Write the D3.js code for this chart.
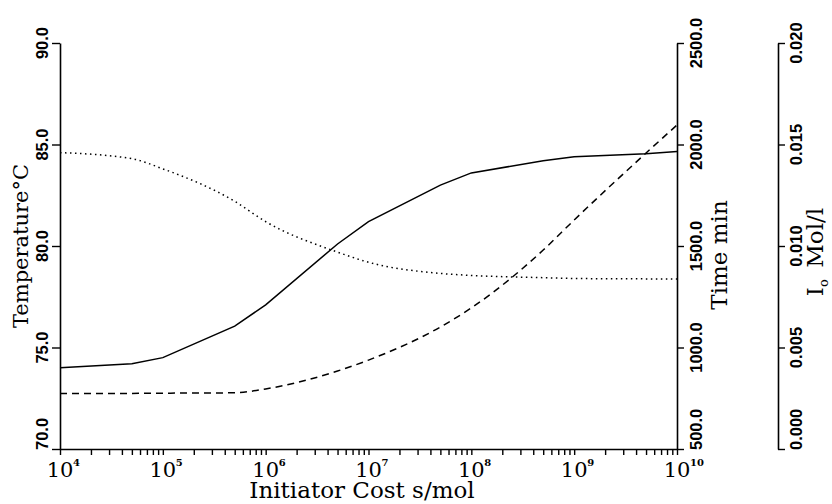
<!DOCTYPE html>
<html>
<head>
<meta charset="utf-8">
<script src="https://cdn.jsdelivr.net/npm/d3@7"></script>
<style>
  body { margin: 0; background: #fff; }
  svg { display: block; }
  .tick-lbl { font-family: "Liberation Sans", Arial, sans-serif; font-weight: bold; font-size: 16.5px; }
  .title { font-family: "DejaVu Serif", serif; font-size: 21px; }
</style>
</head>
<body>
<svg id="chart" width="832" height="504"></svg>
<script>
// initiator cost (s/mol) where the curves were computed
var cost = [1e4, 5e4, 1e5, 5e5, 1e6, 5e6, 1e7, 5e7, 1e8, 5e8, 1e9, 5e9, 1e10];
// solid line - temperature, deg C
var temperature = [74.0, 74.2, 74.5, 76.05, 77.1, 80.1, 81.2, 83.0, 83.6, 84.2, 84.4, 84.55, 84.65];
// dashed line - reaction time, min
var time = [774, 774, 775, 777, 796, 884, 938, 1101, 1195, 1480, 1628, 1958, 2096];
// dotted line - initiator concentration, mol/l
var conc = [0.0146, 0.0143, 0.0138, 0.0122, 0.0112, 0.0097, 0.0092, 0.00865, 0.00855, 0.00844, 0.0084, 0.00838, 0.00837];

var tempTicks = [70, 75, 80, 85, 90];
var timeTicks = [500, 1000, 1500, 2000, 2500];
var concTicks = [0, 0.005, 0.010, 0.015, 0.020];
var decades = [4, 5, 6, 7, 8, 9, 10];

var svg = d3.select("#chart");
var pl = 60, pr = 677, pt = 43, pb = 449;

var x = d3.scaleLog().domain([1e4, 1e10]).range([pl, pr]);
var yT = d3.scaleLinear().domain([70, 90]).range([pb, pt]);
var yTime = d3.scaleLinear().domain([500, 2500]).range([pb, pt]);
var yC = d3.scaleLinear().domain([0, 0.02]).range([pb, pt]);

function styleAxis(g) {
  g.select(".domain").attr("stroke", "#000").attr("stroke-width", 1.6);
  g.selectAll(".tick line").attr("stroke", "#000").attr("stroke-width", 1.4);
  g.selectAll(".tick text").remove();
}

// rotated tick labels, centred on the tick but kept above the bottom of the axis
function vertLabels(ticks, scale, fmt, xBase) {
  var g = svg.append("g");
  ticks.forEach(function(t) {
    var txt = g.append("text").attr("class", "tick-lbl").text(fmt(t));
    var len = txt.node().getComputedTextLength();
    var cy = Math.min(scale(t), pb + 1 - len / 2);
    txt.attr("text-anchor", "middle")
      .attr("transform", "translate(" + xBase + "," + cy + ") rotate(-90)");
  });
}

// left axis: temperature
var axT = svg.append("g").attr("transform", "translate(" + pl + ",0)")
  .call(d3.axisLeft(yT).tickValues(tempTicks).tickSize(8).tickSizeOuter(0));
styleAxis(axT);
vertLabels(tempTicks, yT, d3.format(".1f"), 48);

// right axis: time
var axTime = svg.append("g").attr("transform", "translate(" + pr + ",0)")
  .call(d3.axisRight(yTime).tickValues(timeTicks).tickSize(7).tickSizeOuter(0));
styleAxis(axTime);
vertLabels(timeTicks, yTime, d3.format(".1f"), 702);

// far right axis: initiator concentration
var axC = svg.append("g").attr("transform", "translate(778,0)")
  .call(d3.axisRight(yC).tickValues(concTicks).tickSize(7).tickSizeOuter(0));
styleAxis(axC);
vertLabels(concTicks, yC, d3.format(".3f"), 802);

// bottom log axis with minor ticks
var allTicks = x.ticks();
var axX = svg.append("g").attr("transform", "translate(0," + pb + ")")
  .call(d3.axisBottom(x).tickValues(allTicks).tickSize(6).tickSizeOuter(0));
styleAxis(axX);

var xl = svg.append("g");
decades.forEach(function(p) {
  var px = x(Math.pow(10, p));
  xl.append("text").attr("class", "title").attr("x", px).attr("y", 477)
    .attr("text-anchor", "middle").style("font-size", "21px").text("10");
  xl.append("text").attr("class", "title").attr("x", px + 13).attr("y", 466)
    .style("font-size", "10px").style("font-weight", "bold").text(p);
});

// axis titles
svg.append("text").attr("class", "title").attr("text-anchor", "middle")
  .style("font-size", "23px")
  .attr("x", 362).attr("y", 498).text("Initiator Cost s/mol");
svg.append("text").attr("class", "title").attr("text-anchor", "middle")
  .attr("transform", "translate(28,246) rotate(-90)").text("Temperature\u00b0C");
svg.append("text").attr("class", "title").attr("text-anchor", "middle")
  .style("font-size", "23px")
  .attr("transform", "translate(727,255) rotate(-90)").text("Time min");
var io = svg.append("text").attr("class", "title").attr("text-anchor", "middle")
  .style("font-size", "23px")
  .attr("transform", "translate(823,252) rotate(-90)");
io.append("tspan").text("I");
io.append("tspan").attr("dy", 5).style("font-size", "13px").text("o");
io.append("tspan").attr("dy", -5).text("\u2002Mol/l");

// curves
function drawLine(vals, yScale, dash, curve) {
  var line = d3.line()
    .curve(curve)
    .x(function(d, i) { return x(cost[i]); })
    .y(function(d) { return yScale(d); });
  svg.append("path").datum(vals)
    .attr("d", line)
    .attr("fill", "none")
    .attr("stroke", "#000")
    .attr("stroke-width", 1.5)
    .attr("stroke-dasharray", dash);
}
drawLine(temperature, yT, null, d3.curveLinear);
drawLine(time, yTime, "7,5", d3.curveMonotoneX);
drawLine(conc, yC, "1.5,3.5", d3.curveMonotoneX);
</script>
</body>
</html>
